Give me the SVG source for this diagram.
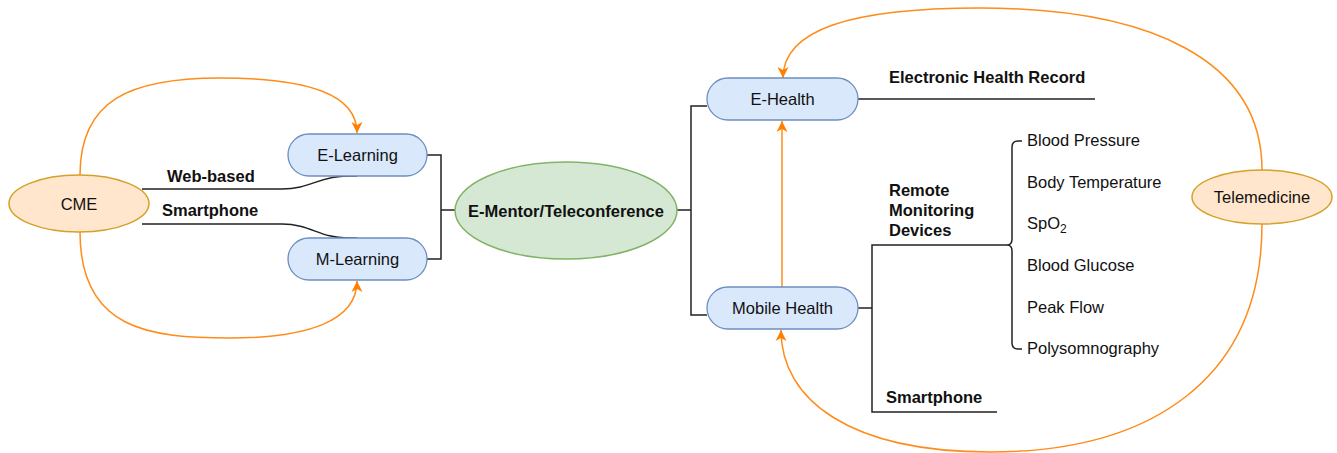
<svg xmlns="http://www.w3.org/2000/svg" width="1337" height="453" viewBox="0 0 1337 453">
<defs>
<style>
text{font-family:"Liberation Sans",Arial,Helvetica,sans-serif;font-size:16.5px;fill:#111}
.b{font-weight:bold}
.c{text-anchor:middle}
.box{fill:#dae8fc;stroke:#6c8ebf;stroke-width:1.3}
.org{fill:#ffe6cc;stroke:#d6a12a;stroke-width:1.5}
.grn{fill:#d5e8d4;stroke:#82b366;stroke-width:1.5}
.ln{fill:none;stroke:#222;stroke-width:1.5}
.ar{fill:none;stroke:#ff8c1a;stroke-width:1.5;marker-end:url(#arr)}
</style>
<marker id="arr" markerUnits="userSpaceOnUse" markerWidth="12" markerHeight="12" refX="11" refY="5.5" orient="auto" viewBox="0 0 12 11">
<path d="M0,0 L11,5.5 L0,11 L3,5.5 Z" fill="#ff8000"/>
</marker>
</defs>
<rect width="1337" height="453" fill="#fff"/>
<g id="connectors">
<path class="ln" d="M427,155 H441 V259 H427 M441,210 H455"/>
<path class="ln" d="M677,210 H691 M707,106 H691 V315 H707"/>
<path class="ln" d="M142,189 H282 C310,189 320,176 347,176 H357"/>
<path class="ln" d="M142,224 H282 C310,224 320,238 347,238 H357"/>
<path class="ln" d="M858,99 H1095"/>
<path class="ln" d="M858,308 H872 M1007,245 H872 V412 H997"/>
<path class="ln" d="M1022,141 H1018 Q1012,141 1012,147 V239 Q1012,245 1007,245 Q1012,245 1012,251 V343 Q1012,349 1018,349 H1022"/>
<path class="ar" d="M80,175 C80,100 130,78 220,78 C310,78 357,95 357,133"/>
<path class="ar" d="M80,232 C80,330 150,338 230,338 C310,338 357,320 357,281"/>
<path class="ar" d="M782,287 V121"/>
<path class="ar" d="M1262,170 C1262,60 1150,8 980,8 C850,8 783,30 783,78"/>
<path class="ar" d="M1262,224 C1262,380 1150,452 990,452 C850,452 781,400 781,330"/>
</g>
<g id="cme"><ellipse class="org" cx="79" cy="203.5" rx="70" ry="28.5"/><text class="c" x="79" y="209.5">CME</text></g>
<g id="elearning"><rect class="box" x="288" y="134" width="139" height="42" rx="21"/><text class="c" x="357.5" y="161">E-Learning</text></g>
<g id="mlearning"><rect class="box" x="288" y="238" width="139" height="42" rx="21"/><text class="c" x="357.5" y="265">M-Learning</text></g>
<g id="ementor"><ellipse class="grn" cx="566" cy="210.5" rx="111" ry="48.5"/><text class="c b" x="566" y="216.5">E-Mentor/Teleconference</text></g>
<g id="ehealth"><rect class="box" x="707" y="78" width="151" height="42" rx="21"/><text class="c" x="782.5" y="105">E-Health</text></g>
<g id="mhealth"><rect class="box" x="707" y="287" width="151" height="42" rx="21"/><text class="c" x="782.5" y="314">Mobile Health</text></g>
<g id="telemedicine"><ellipse class="org" cx="1262" cy="197" rx="70" ry="27"/><text class="c" x="1262" y="203">Telemedicine</text></g>
<g id="labels">
<text class="b" x="167" y="182">Web-based</text>
<text class="b" x="162" y="216">Smartphone</text>
<text class="b" x="889" y="83">Electronic Health Record</text>
<text class="b" x="889" y="196">Remote</text>
<text class="b" x="889" y="216">Monitoring</text>
<text class="b" x="889" y="236">Devices</text>
<text class="b" x="886" y="403">Smartphone</text>
<text x="1027" y="146">Blood Pressure</text>
<text x="1027" y="188">Body Temperature</text>
<text x="1027" y="229">SpO<tspan dy="4" font-size="12">2</tspan></text>
<text x="1027" y="271">Blood Glucose</text>
<text x="1027" y="313">Peak Flow</text>
<text x="1027" y="354">Polysomnography</text>
</g>
</svg>
